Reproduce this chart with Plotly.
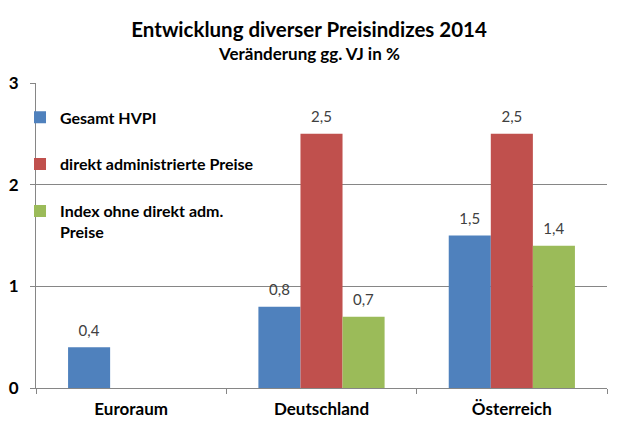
import plotly.graph_objects as go

# Daten
laender = ["Euroraum", "Deutschland", "Österreich"]
gesamt_hvpi = [0.4, 0.8, 1.5]
direkt_adm = [None, 2.5, 2.5]
ohne_direkt = [None, 0.7, 1.4]
serien_namen = ["Gesamt HVPI", "direkt administrierte Preise", "Index ohne direkt adm.<br>Preise"]
farben = ["#4F81BD", "#C0504D", "#9BBB59"]
y_ticks = [0, 1, 2, 3]

schrift = "Lato"

fig = go.Figure()
for i, werte in enumerate([gesamt_hvpi, direkt_adm, ohne_direkt]):
    fig.add_trace(
        go.Bar(
            x=laender,
            y=werte,
            name=serien_namen[i],
            marker=dict(color=farben[i], line=dict(width=0)),
            # leere zweite Zeile mit kleiner Schrift -> etwas mehr Abstand zum Balken
            texttemplate="<span style='font-size:15px'>%{y:.1f}</span><br>&nbsp;",
            textposition="outside",
            textfont=dict(family=schrift, size=6, color="#404040"),
            cliponaxis=False,
            legendgroup=str(i),
        )
    )

# Seite hat 8px Rand -> Figur etwas kleiner
fig.update_layout(
    width=612,
    height=425,
    margin=dict(l=28, r=13, t=75, b=45),
    paper_bgcolor="white",
    plot_bgcolor="white",
    separators=", ",
    barmode="group",
    bargap=0.337,
    bargroupgap=0,
    font=dict(family=schrift, color="black"),
    title=dict(
        text="<b>Entwicklung diverser Preisindizes 2014</b>",
        x=0.492,
        xref="container",
        xanchor="center",
        y=0.948,
        yanchor="middle",
        font=dict(family=schrift, size=20.5, color="black"),
    ),
    annotations=[
        dict(
            text="<b>Veränderung gg. VJ in %</b>",
            xref="paper",
            yref="paper",
            x=0.478,
            y=1.098,
            xanchor="center",
            yanchor="middle",
            showarrow=False,
            font=dict(family=schrift, size=17, color="black"),
        )
    ],
    legend=dict(
        x=-0.028,
        y=0.943,
        xanchor="left",
        yanchor="top",
        bgcolor="rgba(0,0,0,0)",
        font=dict(family=schrift, size=16, color="black", weight="bold"),
        traceorder="grouped",
        tracegroupgap=23,
        valign="top",
    ),
    xaxis=dict(
        type="category",
        tickson="boundaries",
        ticks="outside",
        ticklen=5,
        tickcolor="#868686",
        showline=True,
        linecolor="#868686",
        ticklabelstandoff=6,
        automargin=False,
        tickfont=dict(family=schrift, size=17, color="black", weight="bold"),
    ),
    yaxis=dict(
        range=[0, 3],
        tickvals=y_ticks,
        ticks="outside",
        ticklen=5,
        tickcolor="#868686",
        showline=True,
        linecolor="#868686",
        showgrid=True,
        gridcolor="#868686",
        zeroline=False,
        ticklabelstandoff=8,
        automargin=False,
        tickfont=dict(family=schrift, size=17, color="black", weight="bold"),
    ),
)

fig.write_html("out.html")
